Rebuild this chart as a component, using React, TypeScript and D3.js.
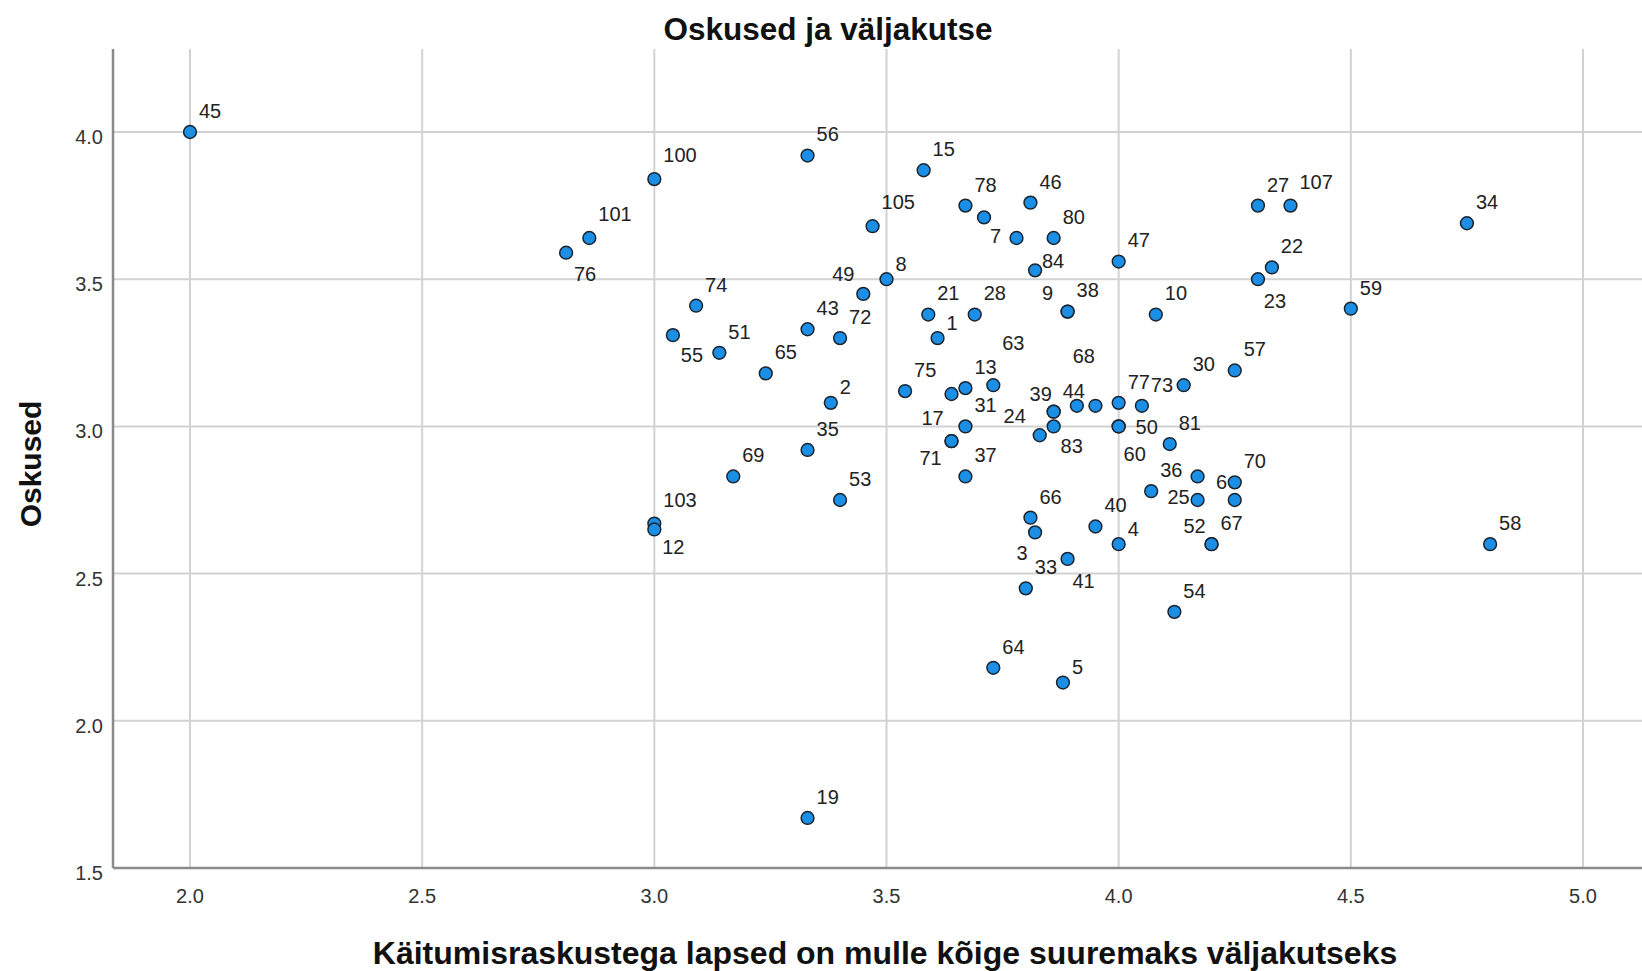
import React from 'react';
import * as d3 from 'd3';

// ---- data ----
const pointIds: (string | null)[] = [
  '45', '100', '56', '101', '76', '15', '78', null, '46', '7',
  '80', '105', '84', '8', '49', '74', '55', '51', '65', '43',
  '72', '21', '28', '1', '9', '38', '47', '10', '27', '107',
  '22', '23', '59', '34', '57', '30', '73', '77', '50', '60',
  '81', '36', '6', '70', '25', null, '52', '67', '40', '4',
  '54', '58', '2', '75', null, '13', '63', '31', '17', '71',
  '37', '39', '44', '83', '24', '68', null, '35', '69', '53',
  '103', '12', '66', '3', '41', '33', '64', '5', '19',
];
const xValues = [
  2.0, 3.0, 3.33, 2.86, 2.81, 3.58, 3.67, 3.71, 3.81, 3.78,
  3.86, 3.47, 3.82, 3.5, 3.45, 3.09, 3.04, 3.14, 3.24, 3.33,
  3.4, 3.59, 3.69, 3.61, 3.89, 3.89, 4.0, 4.08, 4.3, 4.37,
  4.33, 4.3, 4.5, 4.75, 4.25, 4.14, 4.05, 4.0, 4.0, 4.0,
  4.11, 4.07, 4.17, 4.25, 4.17, 4.25, 4.2, 4.2, 3.95, 4.0,
  4.12, 4.8, 3.38, 3.54, 3.64, 3.67, 3.73, 3.67, 3.64, 3.64,
  3.67, 3.86, 3.86, 3.86, 3.83, 3.91, 3.95, 3.33, 3.17, 3.4,
  3.0, 3.0, 3.81, 3.82, 3.89, 3.8, 3.73, 3.88, 3.33,
];
const yValues = [
  4.0, 3.84, 3.92, 3.64, 3.59, 3.87, 3.75, 3.71, 3.76, 3.64,
  3.64, 3.68, 3.53, 3.5, 3.45, 3.41, 3.31, 3.25, 3.18, 3.33,
  3.3, 3.38, 3.38, 3.3, 3.39, 3.39, 3.56, 3.38, 3.75, 3.75,
  3.54, 3.5, 3.4, 3.69, 3.19, 3.14, 3.07, 3.08, 3.0, 3.0,
  2.94, 2.78, 2.83, 2.81, 2.75, 2.75, 2.6, 2.6, 2.66, 2.6,
  2.37, 2.6, 3.08, 3.12, 3.11, 3.13, 3.14, 3.0, 2.95, 2.95,
  2.83, 3.05, 3.05, 3.0, 2.97, 3.07, 3.07, 2.92, 2.83, 2.75,
  2.67, 2.65, 2.69, 2.64, 2.55, 2.45, 2.18, 2.13, 1.67,
];
const xTicks = [2.0, 2.5, 3.0, 3.5, 4.0, 4.5, 5.0];
const yTicks = [1.5, 2.0, 2.5, 3.0, 3.5, 4.0];

// label centre offsets (px) for labels not placed at the default upper-right
const labelOffsets: Record<string, [number, number]> = {
  '76': [19, 21], '7': [-21, -2], '84': [18, -9], '49': [-20, -20],
  '55': [19, 20], '9': [-20, -19], '23': [17, 22], '50': [28, 1],
  '60': [16, 28], '6': [24, 6], '25': [-19, -3], '52': [-17, -18],
  '63': [20, -42], '17': [-19, -23], '71': [-21, 17], '39': [-13, -18],
  '83': [18, 20], '24': [-25, -19], '68': [7, -50], '12': [19, 18],
  '3': [-13, 21], '41': [16, 22],
};

const title = 'Oskused ja väljakutse';
const xTitle = 'Käitumisraskustega lapsed on mulle kõige suuremaks väljakutseks';
const yTitle = 'Oskused';

// ---- layout ----
const W = 1642;
const H = 971;
const plotLeft = 113;
const plotRight = 1642;
const plotTop = 49;
const FONT = "'Liberation Sans', Arial, sans-serif";

const xScale = d3.scaleLinear().domain([2, 5]).range([190, 1583]);
const yScale = d3.scaleLinear().domain([1.5, 4]).range([868, 132]);
const plotBottom = yScale(1.5);
const fmt = d3.format('.1f');

export default function App() {
  const points = pointIds.map((id, i) => ({ id, x: xValues[i], y: yValues[i] }));
  return (
    <svg
      width={W}
      height={H}
      style={{ position: 'absolute', left: 0, top: 0, background: '#fff' }}
      fontFamily={FONT}
    >
      {/* grid */}
      {xTicks.map((t) => (
        <line key={'gx' + t} x1={xScale(t)} x2={xScale(t)} y1={plotTop} y2={plotBottom}
          stroke="#d2d2d2" strokeWidth={2} />
      ))}
      {yTicks.filter((t) => t !== 1.5).map((t) => (
        <line key={'gy' + t} x1={plotLeft} x2={plotRight} y1={yScale(t)} y2={yScale(t)}
          stroke="#d2d2d2" strokeWidth={2} />
      ))}
      {/* axes */}
      <line x1={plotLeft} x2={plotLeft} y1={plotTop} y2={plotBottom} stroke="#8a8a8a" strokeWidth={2.5} />
      <line x1={plotLeft} x2={plotRight} y1={plotBottom} y2={plotBottom} stroke="#8a8a8a" strokeWidth={2.5} />
      {/* tick labels */}
      {yTicks.map((t) => (
        <text key={'ty' + t} x={103} y={yScale(t) + 5} textAnchor="end" dominantBaseline="central"
          fontSize={20} fill="#333">{fmt(t)}</text>
      ))}
      {xTicks.map((t) => (
        <text key={'tx' + t} x={xScale(t)} y={896} textAnchor="middle" dominantBaseline="central"
          fontSize={20} fill="#333">{fmt(t)}</text>
      ))}
      {/* titles */}
      <text x={828} y={29} textAnchor="middle" dominantBaseline="central" fontSize={31.5}
        fontWeight="bold" fill="#111">{title}</text>
      <text x={885} y={953} textAnchor="middle" dominantBaseline="central" fontSize={32}
        fontWeight="bold" fill="#111">{xTitle}</text>
      <text transform={`translate(30,464) rotate(-90)`} textAnchor="middle" dominantBaseline="central"
        fontSize={30} fontWeight="bold" fill="#111">{yTitle}</text>
      {/* point labels */}
      {points.filter((p) => p.id).map((p, i) => {
        const id = p.id as string;
        const w = id.length * 11.1;
        const off = labelOffsets[id] ?? [w / 2 + 9, -Math.min(w / 2 + 10, 24)];
        return (
          <text key={'l' + i} x={xScale(p.x) + off[0]} y={yScale(p.y) + off[1]}
            textAnchor="middle" dominantBaseline="central" fontSize={20} fill="#222">{id}</text>
        );
      })}
      {/* points */}
      {points.map((p, i) => (
        <circle key={'p' + i} cx={xScale(p.x)} cy={yScale(p.y)} r={6.4}
          fill="#1b8ee6" stroke="#1a2530" strokeWidth={1.5} />
      ))}
    </svg>
  );
}
